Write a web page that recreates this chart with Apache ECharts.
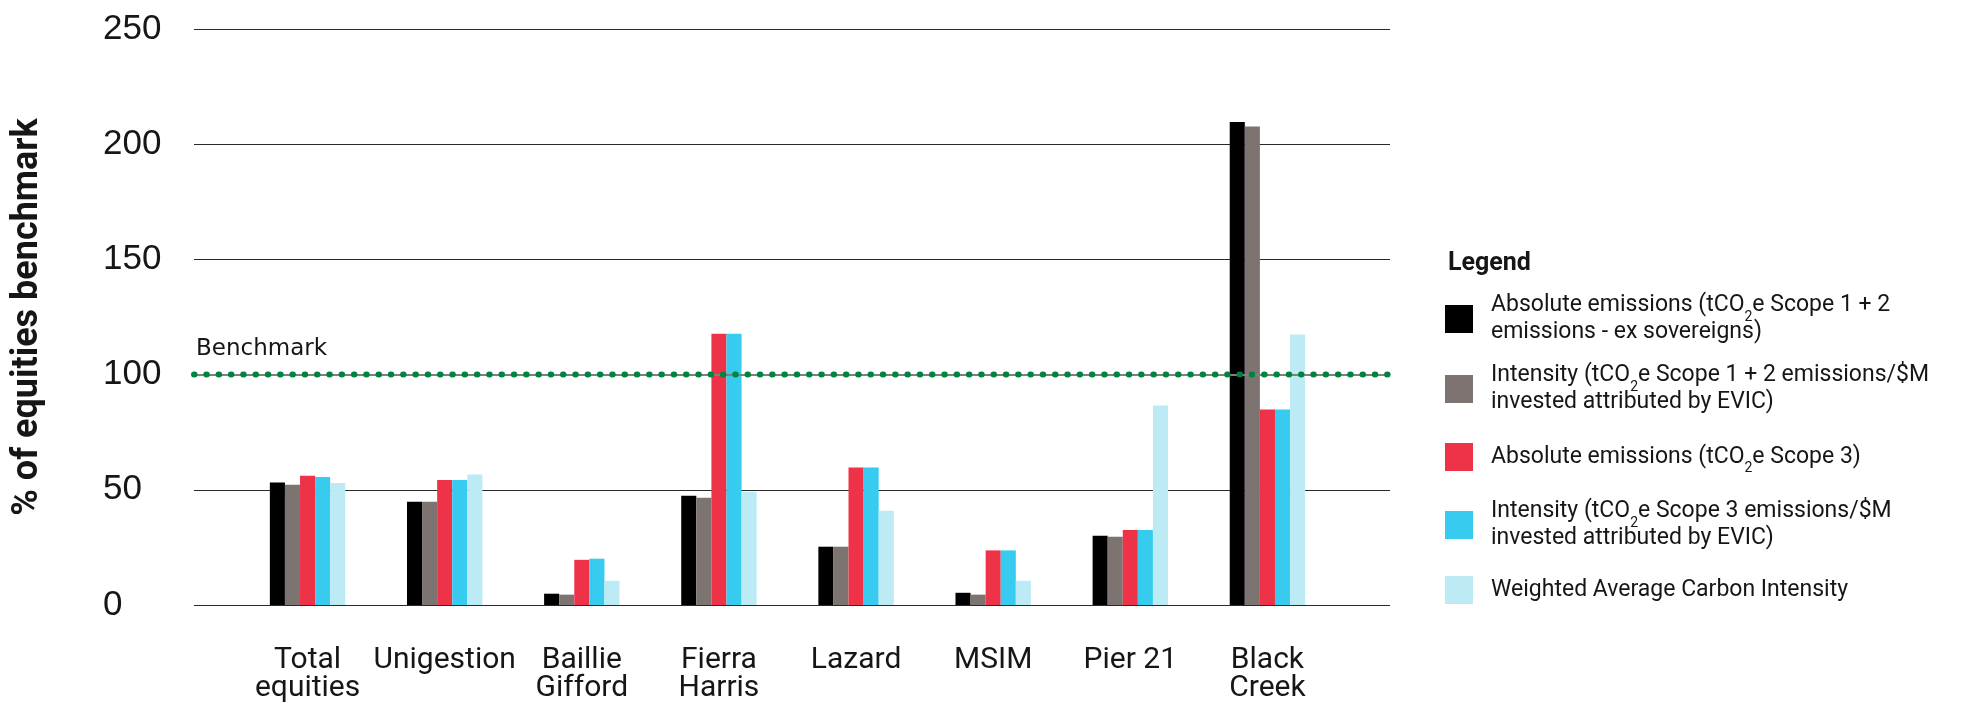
<!DOCTYPE html>
<html>
<head>
<meta charset="utf-8">
<script src="https://cdn.jsdelivr.net/npm/echarts@6/dist/echarts.min.js"></script>
<style>
  html, body { margin: 0; padding: 0; background: #ffffff; }
  #chart { width: 1969px; height: 703px; }
</style>
</head>
<body>
<div id="chart"></div>
<script>
// Managers on the category axis
const categories = ['Total\nequities', 'Unigestion', 'Baillie\nGifford', 'Fierra\nHarris', 'Lazard', 'MSIM', 'Pier 21', 'Black\nCreek'];

// Series names and their legend captions ({s|..} marks a subscript)
const seriesNames = [
  'Absolute emissions (tCO2e Scope 1 + 2 emissions - ex sovereigns)',
  'Intensity (tCO2e Scope 1 + 2 emissions/$M invested attributed by EVIC)',
  'Absolute emissions (tCO2e Scope 3)',
  'Intensity (tCO2e Scope 3 emissions/$M invested attributed by EVIC)',
  'Weighted Average Carbon Intensity'
];
const legendLabels = [
  'Absolute emissions (tCO{s|2}e Scope 1 + 2\nemissions - ex sovereigns)',
  'Intensity (tCO{s|2}e Scope 1 + 2 emissions/$M\ninvested attributed by EVIC)',
  'Absolute emissions (tCO{s|2}e Scope 3)',
  'Intensity (tCO{s|2}e Scope 3 emissions/$M\ninvested attributed by EVIC)',
  'Weighted Average Carbon Intensity'
];

// % of equities benchmark, per manager
const absoluteScope12  = [53.2, 44.8, 4.9, 47.4, 25.3, 5.3, 30.1, 209.6];
const intensityScope12 = [52.2, 44.8, 4.5, 46.5, 25.3, 4.5, 29.6, 207.7];
const absoluteScope3   = [56.1, 54.3, 19.6, 117.7, 59.7, 23.7, 32.6, 84.8];
const intensityScope3  = [55.6, 54.3, 20.1, 117.7, 59.7, 23.7, 32.6, 84.8];
const weightedAvgCI    = [53.0, 56.6, 10.5, 49.1, 40.9, 10.5, 86.6, 117.4];

// Value axis ticks and the benchmark level
const yTickMin = 0;
const yTickMax = 250;
const yTickStep = 50;
const benchmark = 100;

const seriesValues = [absoluteScope12, intensityScope12, absoluteScope3, intensityScope3, weightedAvgCI];
const barColors = ['#000000', '#7d7471', '#ee3349', '#38cbf0', '#bcebf6'];
const textColor = '#161616';

const chart = echarts.init(document.getElementById('chart'), null, { renderer: 'canvas' });

// Legend: one block per series, stacked down the right-hand side
const legendCenters = [319, 389, 457, 525, 590];
const legendLineH = 27;
const legends = seriesNames.map((name, i) => {
  const lines = legendLabels[i].split('\n').length;
  const half = Math.max(14, lines * legendLineH / 2);
  return {
    data: [name],
    orient: 'vertical',
    left: 1445,
    top: legendCenters[i] - half,
    padding: 0,
    icon: 'rect',
    itemWidth: 28,
    itemHeight: 28,
    selectedMode: false,
    formatter: () => legendLabels[i],
    textStyle: {
      fontFamily: 'Roboto',
      fontSize: 23,
      lineHeight: legendLineH,
      color: textColor,
      padding: [0, 0, 0, 13],
      rich: {
        // dropped subscript digit
        s: { fontFamily: 'Roboto', fontSize: 14, lineHeight: 2, verticalAlign: 'top', padding: [18, 0, 0, 0], color: textColor }
      }
    }
  };
});

const barSeries = seriesValues.map((values, i) => ({
  name: seriesNames[i],
  type: 'bar',
  xAxisIndex: 1,
  yAxisIndex: 1,
  data: values,
  barGap: '0%',
  barCategoryGap: '45%',
  itemStyle: { color: barColors[i] },
  silent: true,
  z: 2
}));

const benchmarkPoints = [[0, benchmark], [1, benchmark]];

const option = {
  animation: false,
  backgroundColor: '#ffffff',
  title: {
    text: 'Legend',
    left: 1448,
    top: 250,
    padding: 0,
    textStyle: { fontFamily: 'Roboto', fontWeight: 'bold', fontSize: 25, lineHeight: 28, color: textColor }
  },
  legend: legends,
  grid: [
    { left: 194, right: 579, top: 29, bottom: 98, outerBoundsMode: 'none' },
    { left: 239, right: 633, top: 29, bottom: 98, outerBoundsMode: 'none' }
  ],
  xAxis: [
    { type: 'value', gridIndex: 0, min: 0, max: 1, show: false },
    {
      type: 'category',
      gridIndex: 1,
      data: categories,
      axisLine: { show: false },
      axisTick: { show: false },
      splitLine: { show: false },
      axisLabel: {
        interval: 0,
        margin: 41,
        fontFamily: 'Roboto',
        fontSize: 30,
        lineHeight: 28,
        color: textColor
      }
    }
  ],
  yAxis: [
    {
      type: 'value',
      gridIndex: 0,
      min: yTickMin,
      max: yTickMax,
      interval: yTickStep,
      axisLine: { show: false },
      axisTick: { show: false },
      splitLine: { show: true, lineStyle: { color: '#2a2a2a', width: 1 } },
      axisLabel: {
        align: 'left',
        margin: 91,
        fontFamily: 'Liberation Sans',
        fontSize: 35,
        color: textColor
      },
      name: '% of equities benchmark',
      nameLocation: 'middle',
      nameGap: 148,
      nameTextStyle: { fontFamily: 'Roboto', fontWeight: 'bold', fontSize: 36, lineHeight: 36, color: textColor }
    },
    { type: 'value', gridIndex: 1, min: yTickMin, max: yTickMax, interval: yTickStep, show: false }
  ],
  series: [
    ...barSeries,
    {
      // grey rule at the benchmark level, with its caption
      name: 'benchmarkRule',
      type: 'line',
      xAxisIndex: 0,
      yAxisIndex: 0,
      data: benchmarkPoints,
      symbol: 'none',
      silent: true,
      lineStyle: { width: 0 },
      z: 5,
      markLine: {
        silent: true,
        symbol: 'none',
        data: [{ yAxis: benchmark }],
        lineStyle: { color: '#7f7f7f', width: 2, type: 'solid' },
        label: {
          show: true,
          position: 'insideStartTop',
          distance: [2, 14],
          formatter: 'Benchmark',
          fontFamily: 'DejaVu Sans',
          fontSize: 23,
          color: textColor
        }
      }
    },
    {
      // green dotted benchmark line
      name: 'benchmarkDots',
      type: 'line',
      xAxisIndex: 0,
      yAxisIndex: 0,
      data: benchmarkPoints,
      symbol: 'none',
      silent: true,
      lineStyle: { color: '#00843d', width: 6, type: [0.5, 11.8], cap: 'round' },
      z: 6
    }
  ]
};

chart.setOption(option);
</script>
</body>
</html>
